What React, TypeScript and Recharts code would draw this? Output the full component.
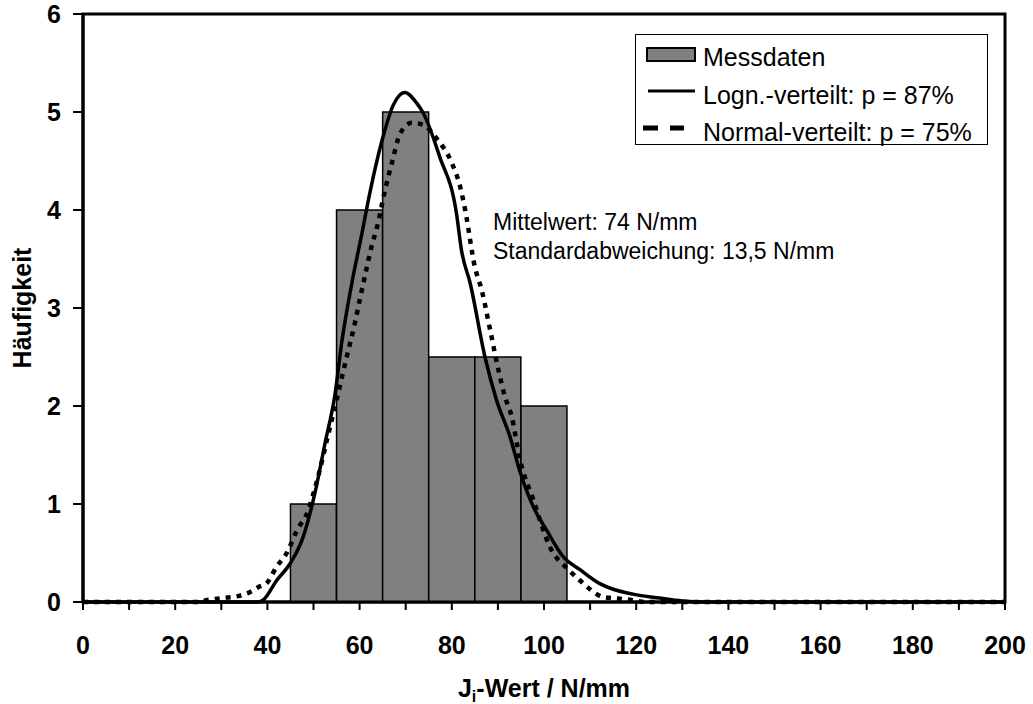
import { ComposedChart, Bar, Line, XAxis, YAxis, ReferenceArea, Label } from 'recharts'

// histogram (Messdaten)
const binMid = [50, 60, 70, 80, 90, 100]
const binCount = [1, 4, 5, 2.5, 2.5, 2]

// Logn.-verteilt curve
const lognX = [0, 20, 38, 39.1, 42, 44.9, 47.8, 50.3, 52.5, 54.7, 56.1, 58.3, 60.5, 61.9, 65.1, 67.3, 69.8, 72.4, 73.8, 77.4, 81, 82.1, 84, 87.2, 89.7, 92.6, 94.8, 97.7, 100.6, 104.2, 107.8, 112, 115, 119.3, 125, 130, 135, 200]
const lognY = [0, 0, 0, 0.02, 0.22, 0.39, 0.67, 1.11, 1.62, 2.13, 2.64, 3.25, 3.76, 4.1, 4.75, 5.07, 5.2, 5.09, 4.99, 4.54, 3.97, 3.59, 3.25, 2.5, 2.06, 1.69, 1.33, 0.97, 0.73, 0.46, 0.33, 0.19, 0.13, 0.08, 0.04, 0.01, 0, 0]

// Normal-verteilt curve
const normX = [0, 25, 27, 30.4, 33.6, 36.2, 38.4, 39.8, 42, 44.2, 46.4, 48.9, 50, 51, 52.9, 55, 57.2, 59, 60.1, 61.5, 62.6, 63.7, 65.5, 67, 68.8, 71.3, 73.8, 76.7, 80, 81.8, 82.9, 85, 86.5, 88.3, 90.1, 91.5, 93, 94.8, 97.7, 101.3, 105.3, 107.8, 112.9, 115, 119, 122, 200]
const normY = [0, 0, 0.02, 0.04, 0.06, 0.1, 0.16, 0.19, 0.36, 0.5, 0.73, 0.94, 1.11, 1.28, 1.65, 2.06, 2.5, 2.85, 3.1, 3.4, 3.63, 3.81, 4.2, 4.48, 4.78, 4.89, 4.87, 4.73, 4.48, 4.24, 4.0, 3.42, 3.18, 2.78, 2.37, 2.1, 1.89, 1.45, 1.04, 0.56, 0.33, 0.22, 0.05, 0.04, 0.02, 0, 0]

const xTicks = [0, 10, 20, 30, 40, 50, 60, 70, 80, 90, 100, 110, 120, 130, 140, 150, 160, 170, 180, 190, 200]
const yTicks = [0, 1, 2, 3, 4, 5, 6]

const histData = binMid.map((mid, i) => ({ mid, count: binCount[i] }))
const lognData = lognX.map((x, i) => ({ x, y: lognY[i] }))
const normData = normX.map((x, i) => ({ x, y: normY[i] }))

const font = '"Liberation Sans", Arial, sans-serif'
const tickStyle = { fill: '#000', fontSize: 25, fontWeight: 'bold', fontFamily: font }

const XTitle = (props: any) => {
  const vb = props.viewBox || { x: 83, y: 602, width: 922 }
  return (
    <text x={vb.x + vb.width / 2} y={vb.y + 95} textAnchor="middle" fontFamily={font} fontSize={25} fontWeight="bold" fill="#000">
      <tspan>J</tspan>
      <tspan fontSize={16} dy={5}>i</tspan>
      <tspan dy={-5}>-Wert / N/mm</tspan>
    </text>
  )
}

const YTitle = (props: any) => {
  const vb = props.viewBox || { x: 33, y: 14, height: 588 }
  const x = vb.x - 2
  const y = vb.y + vb.height / 2
  return (
    <text x={x} y={y} transform={`rotate(-90, ${x}, ${y})`} textAnchor="middle" fontFamily={font} fontSize={25} fontWeight="bold" fill="#000">
      Häufigkeit
    </text>
  )
}

export default function App() {
  return (
    <div style={{ position: 'absolute', left: 0, top: 0, width: 1033, height: 704, background: '#fff' }}>
      <ComposedChart
        width={1033}
        height={704}
        data={histData}
        barCategoryGap={0}
        margin={{ top: 14, right: 28, left: 33, bottom: 2 }}
      >
        <XAxis
          xAxisId="bin"
          type="number"
          dataKey="mid"
          domain={[0, 200]}
          ticks={xTicks}
          interval={0}
          tickFormatter={(v: number) => (v % 20 === 0 ? String(v) : '')}
          height={100}
          axisLine={{ stroke: '#000', strokeWidth: 3 }}
          tickLine={{ stroke: '#000', strokeWidth: 2 }}
          tickSize={8}
          tickMargin={26}
          tick={tickStyle}
        >
          <Label content={XTitle} />
        </XAxis>
        <XAxis xAxisId="curve" type="number" dataKey="x" domain={[0, 200]} hide />
        <YAxis
          type="number"
          domain={[0, 6]}
          ticks={yTicks}
          interval={0}
          width={50}
          axisLine={{ stroke: '#000', strokeWidth: 3 }}
          tickLine={{ stroke: '#000', strokeWidth: 2 }}
          tickSize={10}
          tickMargin={12}
          tick={tickStyle}
        >
          <Label content={YTitle} />
        </YAxis>
        <Bar xAxisId="bin" dataKey="count" fill="#808080" stroke="#000" strokeWidth={1.5} isAnimationActive={false} />
        <Line xAxisId="curve" data={normData} dataKey="y" type="monotone" stroke="#000" strokeWidth={4.5} strokeDasharray="5 6" dot={false} isAnimationActive={false} />
        <Line xAxisId="curve" data={lognData} dataKey="y" type="monotone" stroke="#000" strokeWidth={3.5} dot={false} isAnimationActive={false} />
        <ReferenceArea xAxisId="bin" x1={0} x2={200} y1={0} y2={6} ifOverflow="visible" fill="none" fillOpacity={0} stroke="#000" strokeWidth={3} />
      </ComposedChart>

      <svg width={1033} height={704} style={{ position: 'absolute', left: 0, top: 0, pointerEvents: 'none' }}>
        <g fontFamily={font} fill="#000">
          <rect x={635.5} y={34.5} width={352} height={110} fill="#fff" stroke="#000" strokeWidth={1} />
          <rect x={647} y={48} width={48} height={13} fill="#808080" stroke="#000" strokeWidth={2} />
          <text x={703} y={66} fontSize={25}>Messdaten</text>
          <line x1={648} y1={91} x2={695} y2={91} stroke="#000" strokeWidth={3} />
          <text x={703} y={104} fontSize={25}>Logn.-verteilt: p = 87%</text>
          <line x1={643} y1={128} x2={684} y2={128} stroke="#000" strokeWidth={5} strokeDasharray="15 12" />
          <text x={703} y={141} fontSize={25}>Normal-verteilt: p = 75%</text>
          <text x={493} y={230} fontSize={23}>Mittelwert: 74 N/mm</text>
          <text x={493} y={259} fontSize={23}>Standardabweichung: 13,5 N/mm</text>
        </g>
      </svg>
    </div>
  )
}
